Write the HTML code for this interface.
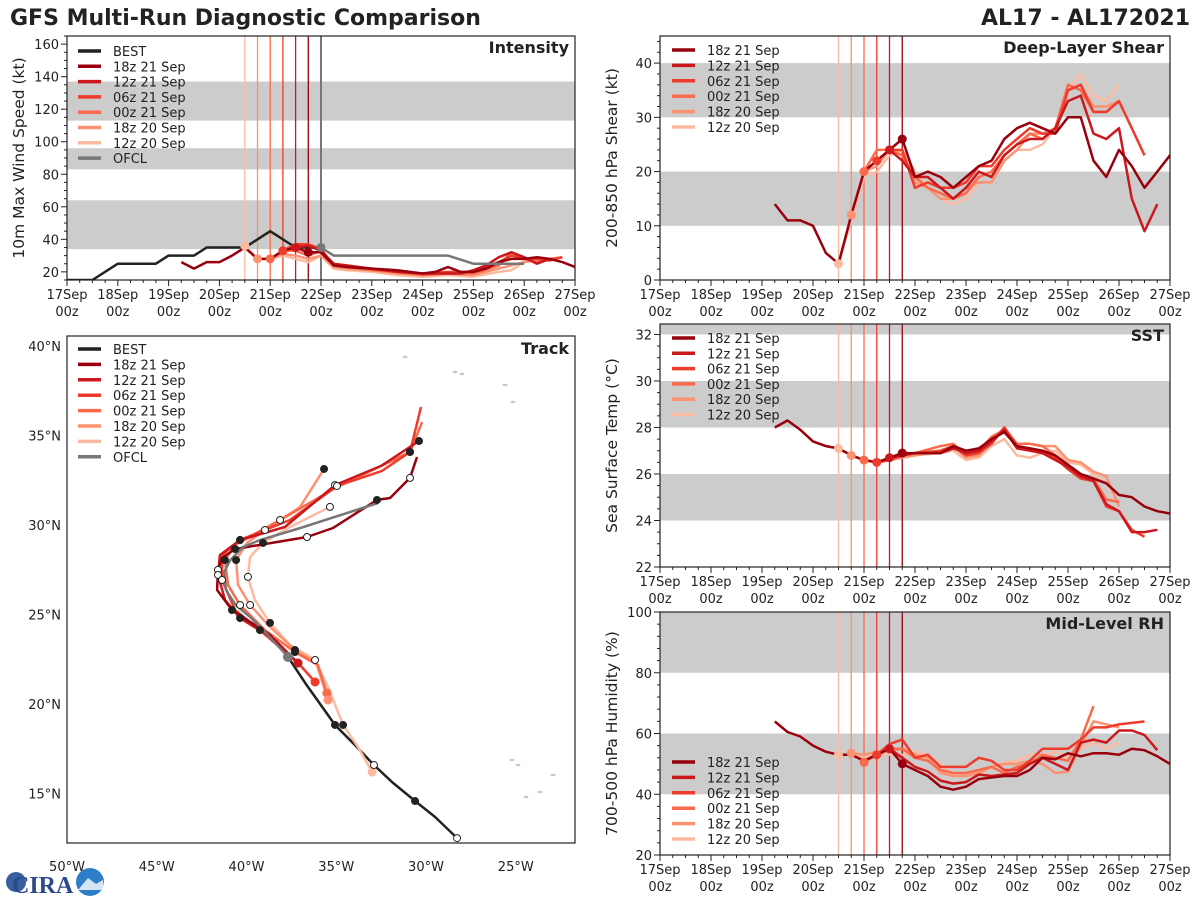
<!DOCTYPE html>
<html><head><meta charset="utf-8"><title>GFS Multi-Run Diagnostic Comparison</title>
<style>
body{margin:0;background:#fff;}
svg{display:block;font-family:"DejaVu Sans","Liberation Sans",sans-serif;}
</style></head>
<body>
<svg id="chart" width="1200" height="900" viewBox="0 0 1200 900" xmlns="http://www.w3.org/2000/svg">
<rect width="1200" height="900" fill="#fff"/>
<text x="10" y="25" font-size="22" font-weight="bold" fill="#222">GFS Multi-Run Diagnostic Comparison</text>
<text x="1190" y="25" font-size="22" font-weight="bold" fill="#222" text-anchor="end">AL17 - AL172021</text>
<g id="logo">
<circle cx="16" cy="882" r="10" fill="#3a5fa0"/>
<text x="12" y="893" font-size="24" font-weight="bold" fill="#2a4a8a" font-family="Liberation Serif,serif">CIRA</text>
<circle cx="90" cy="882" r="14" fill="#2f7fc8"/>
<path d="M78 890 L88 878 L96 884 L103 880 L104 890 Z" fill="#fff" opacity="0.8"/>
</g>
</svg>
<script>
// ---------- shared run metadata ----------
const runNames = ["18z 21 Sep","12z 21 Sep","06z 21 Sep","00z 21 Sep","18z 20 Sep","12z 20 Sep"];
const runColors = ["#99000d","#cb181d","#ef3b2c","#fb6a4a","#fc9272","#fcbba1"];
const runInit = [4.75,4.5,4.25,4.0,3.75,3.5]; // days since 17 Sep 00z
const dayLabels = ["17Sep","18Sep","19Sep","20Sep","21Sep","22Sep","23Sep","24Sep","25Sep","26Sep","27Sep"];

// ---------- Intensity (times in days since 17Sep00z) ----------
const bestT = [0,0.5,1,1.75,2,2.5,2.75,3.5,4,4.5,5];
const bestV = [15,15,25,25,30,30,35,35,45,35,35];
const ofclT = [5,5.25,7.5,8,9];
const ofclV = [35,30,30,25,25];
const intT = [
 [2.25,2.5,2.75,3,3.25,3.5,3.75,4,4.25,4.5,4.75,5,5.25,5.5,6,6.5,7,7.25,7.5,7.75,8,8.25,8.5,8.75,9,9.25,9.5,9.75,10],
 [4.5,4.75,5,5.25,5.5,6,6.5,7,7.5,7.75,8,8.25,8.5,8.75,9,9.25,9.5],
 [4.25,4.5,4.75,5,5.25,5.5,6,6.5,7,7.5,8,8.5,8.75,9,9.25,9.5,9.75],
 [4,4.25,4.5,4.75,5,5.25,5.5,6,6.5,7,7.5,8,8.5,8.75,9,9.25,9.5,9.75],
 [3.75,4,4.25,4.5,4.75,5,5.25,5.5,6,6.5,7,7.5,8,8.5,9,9.25,9.5],
 [3.5,3.75,4,4.25,4.5,4.75,5,5.25,5.5,6,6.5,7,7.5,8,8.5,8.75,9]
];
const intV = [
 [26,22,26,26,30,35,28,28,33,35,32,32,24,23,22,21,19,20,23,20,20,22,26,28,28,29,28,26,23],
 [35,36,33,25,24,22,20,19,19,19,21,24,29,32,29,25,28],
 [33,37,37,34,24,23,22,20,19,20,20,26,30,28,28,27,29],
 [28,33,33,30,33,24,23,21,20,18,19,19,24,32,28,26,28,29],
 [28,28,31,30,28,30,23,22,21,19,18,19,18,22,26,27,27],
 [36,28,28,30,28,26,30,22,21,20,18,17,18,17,20,21,26]
];

// ---------- Shear ----------
const shrT = [
 [2.25,2.5,2.75,3,3.25,3.5,3.75,4,4.25,4.5,4.75,5,5.25,5.5,5.75,6,6.25,6.5,6.75,7,7.25,7.5,7.75,8,8.25,8.5,8.75,9,9.25,9.5,9.75,10],
 [4.5,4.75,5,5.25,5.5,5.75,6,6.25,6.5,6.75,7,7.25,7.5,7.75,8,8.25,8.5,8.75,9,9.25,9.5,9.75],
 [4.25,4.5,4.75,5,5.25,5.5,5.75,6,6.25,6.5,6.75,7,7.25,7.5,7.75,8,8.25,8.5,8.75,9,9.25,9.5],
 [4,4.25,4.5,4.75,5,5.25,5.5,5.75,6,6.25,6.5,6.75,7,7.25,7.5,7.75,8,8.25,8.5,8.75,9],
 [3.75,4,4.25,4.5,4.75,5,5.25,5.5,5.75,6,6.25,6.5,6.75,7,7.25,7.5,7.75,8,8.25,8.5,8.75,9],
 [3.5,3.75,4,4.25,4.5,4.75,5,5.25,5.5,5.75,6,6.25,6.5,6.75,7,7.25,7.5,7.75,8,8.25,8.5,8.75,9]
];
const shrV = [
 [14,11,11,10,5,3,12,20,22,24,26,19,20,19,17,19,21,22,26,28,29,28,27,30,30,22,19,24,21,17,20,23],
 [24,22,19,19,17,15,17,20,19,23,25,26,26,28,33,34,27,26,28,15,9,14],
 [22,24,24,17,18,17,17,18,21,21,24,26,28,27,27,35,36,31,31,33,28,23],
 [20,24,24,23,19,17,16,15,16,19,20,23,25,27,26,28,36,35,31,31,33],
 [12,20,21,24,23,18,17,15,15,17,18,18,22,24,27,27,28,35,36,32,32,33],
 [3,11,19,20,23,24,20,17,15,14,15,18,18,22,24,24,25,28,35,38,34,33,36]
];

// ---------- SST ----------
const sstT = [
 [2.25,2.5,2.75,3,3.25,3.5,3.75,4,4.25,4.5,4.75,5,5.5,5.75,6,6.25,6.5,6.75,7,7.25,7.5,7.75,8,8.25,8.5,8.75,9,9.25,9.5,9.75,10],
 [4.5,4.75,5,5.5,5.75,6,6.25,6.5,6.75,7,7.25,7.5,7.75,8,8.25,8.5,8.75,9,9.25,9.5,9.75],
 [4.25,4.5,4.75,5,5.5,5.75,6,6.25,6.5,6.75,7,7.25,7.5,7.75,8,8.25,8.5,8.75,9,9.25,9.5],
 [4,4.25,4.5,4.75,5,5.5,5.75,6,6.25,6.5,6.75,7,7.25,7.5,7.75,8,8.25,8.5,8.75,9],
 [3.75,4,4.25,4.5,4.75,5,5.5,5.75,6,6.25,6.5,6.75,7,7.25,7.5,7.75,8,8.25,8.5,8.75,9],
 [3.5,3.75,4,4.25,4.5,4.75,5,5.5,5.75,6,6.25,6.5,6.75,7,7.25,7.5,7.75,8,8.25,8.5,8.75,9]
];
const sstV = [
 [28.0,28.3,27.9,27.4,27.2,27.1,26.8,26.6,26.5,26.7,26.9,26.9,26.9,27.2,27.0,27.1,27.5,27.8,27.2,27.1,27.0,26.8,26.4,26.0,25.8,25.6,25.1,25.0,24.6,24.4,24.3],
 [26.7,26.8,26.9,26.9,27.1,26.9,27.0,27.4,27.9,27.1,27.0,26.9,26.6,26.3,25.9,25.7,24.7,24.4,23.5,23.5,23.6],
 [26.5,26.6,26.8,26.9,27.0,27.2,26.8,26.9,27.3,28.0,27.2,27.1,27.0,26.7,26.2,25.8,25.7,24.6,24.4,23.6,23.3],
 [26.6,26.5,26.6,26.8,26.9,27.2,27.3,26.8,27.0,27.6,27.9,27.3,27.3,27.2,26.8,26.3,25.9,25.8,24.9,24.8],
 [26.8,26.6,26.5,26.6,26.7,26.8,27.0,27.2,26.7,26.8,27.4,28.0,27.3,27.3,27.2,27.2,26.6,26.5,26.1,25.9,24.6],
 [27.1,26.8,26.6,26.5,26.6,26.7,26.8,26.9,27.0,26.6,26.7,27.2,27.5,26.8,26.7,26.9,27.0,26.5,26.4,26.0,25.6,24.7]
];

// ---------- Mid-level RH ----------
const rhT = [
 [2.25,2.5,2.75,3,3.25,3.5,3.75,4,4.25,4.5,4.75,5,5.25,5.5,5.75,6,6.25,6.5,6.75,7,7.25,7.5,7.75,8,8.25,8.5,8.75,9,9.25,9.5,9.75,10],
 [4.5,4.75,5,5.25,5.5,5.75,6,6.25,6.5,6.75,7,7.25,7.5,7.75,8,8.25,8.5,8.75,9,9.25,9.5,9.75],
 [4.25,4.5,4.75,5,5.25,5.5,5.75,6,6.25,6.5,6.75,7,7.25,7.5,7.75,8,8.25,8.5,8.75,9,9.5],
 [4,4.25,4.5,4.75,5,5.25,5.5,5.75,6,6.25,6.5,6.75,7,7.25,7.5,7.75,8,8.25,8.5],
 [3.75,4,4.25,4.5,4.75,5,5.25,5.5,5.75,6,6.25,6.5,6.75,7,7.25,7.5,7.75,8,8.25,8.5,8.75,9],
 [3.5,3.75,4,4.25,4.5,4.75,5,5.25,5.5,5.75,6,6.25,6.5,6.75,7,7.25,7.5,7.75,8,8.25,8.5,8.75,9]
];
const rhV = [
 [64,60.5,59,56,54,53,53,51,53,55,50,48,46,42.5,41.5,42.5,45,45.5,46,46,48,52,51.5,53.5,52.5,53.5,53.5,53,55,54.5,52.5,50],
 [55,52,49,47.5,44.5,43.5,44,46.5,46,46.5,47,50,52,50,48,57,58,57,61,61,59.5,54.5],
 [53,56.5,58,52,53,49,49,49,52,51,48,48,51,55,55,55,58,62,62,63,64],
 [50.5,53,55,55,52,51,48,47,47,48,49,47,49,50,53,52,51,58,69],
 [53.5,53,54,54,55,53,52,47,46,46,47,49,50,50,51,50,47,47.5,56,64,63,62],
 [53,53,52,53,53,53,54,53,50,46,46,47,49,50.5,51,53,53,54,52,55,57,55,57]
];

// ---------- Track (lon, lat) ----------
const bestLon = [-28.27,-29.5,-30.61,-31.84,-32.9,-33.96,-35.07,-36.69,-37.69];
const bestLat = [12.51,13.69,14.58,15.59,16.59,17.71,18.83,21.12,22.63];
const ofclLon = [-37.69,-38.86,-39.8,-40.6,-41.14,-41.25,-40.9,-40.2,-39.25,-37.0,-32.67];
const ofclLat = [22.63,23.91,24.86,25.53,26.37,27.37,28.04,28.77,29.16,29.83,31.23];
const trkLon = [
 [-37.69,-38.69,-40.81,-41.64,-41.59,-41.36,-40.64,-38.3,-36.63,-35.18,-32.73,-32.0,-30.89,-30.5],
 [-37.13,-38.41,-40.36,-41.2,-41.59,-41.48,-40.36,-37.86,-35.07,-32.5,-30.39],
 [-36.18,-37.02,-39.25,-40.64,-41.36,-41.36,-40.36,-37.58,-34.96,-32.45,-30.89,-30.28],
 [-35.52,-36.02,-37.3,-38.97,-40.36,-41.03,-41.2,-40.64,-38.13,-34.96,-30.89,-30.22],
 [-35.46,-36.13,-37.3,-38.69,-39.8,-40.47,-40.58,-39.97,-38.97,-37.02,-35.68],
 [-33.0,-33.79,-34.62,-35.46,-36.18,-37.58,-38.69,-39.53,-39.92,-39.8,-39.08,-37.58,-35.35]
];
const trkLat = [
 [22.63,23.86,25.25,26.37,27.49,28.16,28.66,29.05,29.33,29.83,31.4,31.51,32.63,33.8],
 [22.29,23.58,24.8,25.81,27.21,28.32,29.16,29.89,32.23,33.3,34.69],
 [21.23,22.18,24.13,25.25,26.93,28.32,29.16,30.28,32.18,33.02,34.08,36.59],
 [20.61,22.18,22.9,24.13,25.53,26.65,28.04,28.88,30.28,32.12,34.08,35.75],
 [20.22,22.35,23.02,24.3,25.53,26.65,28.04,29.0,29.72,31.0,33.13],
 [16.2,17.6,18.83,20.95,22.46,23.3,24.53,25.81,27.1,28.21,29.0,29.89,31.01]
];
const lonTicks = [-50,-45,-40,-35,-30,-25];
const latTicks = [15,20,25,30,35,40];

// ---------- drawing helpers ----------
const svg = document.getElementById('chart');
const NS = 'http://www.w3.org/2000/svg';
const FS = 13;
function mk(tag, attrs, parent){
  const e = document.createElementNS(NS, tag);
  for (const k in attrs) e.setAttribute(k, attrs[k]);
  (parent||svg).appendChild(e);
  return e;
}
function txt(s, attrs, parent){ const t = mk('text', attrs, parent); t.textContent = s; return t; }
function pathD(xs, ys){ return xs.map((x,i)=>(i?'L':'M')+x.toFixed(1)+' '+ys[i].toFixed(1)).join(' '); }

function timePanel(cfg){
  const g = mk('g', {});
  
  
  const L=cfg.L, R=cfg.R, T=cfg.T, B=cfg.B;
  const sx = t => L + t*(R-L)/10;
  const sy = v => B - (v-cfg.ymin)*(B-T)/(cfg.ymax-cfg.ymin);
  const clip = mk('clipPath', {id:'clip-'+cfg.name}, g);
  mk('rect', {x:L, y:T, width:R-L, height:B-T}, clip);
  cfg.bands.forEach(b=>{
    const r = mk('rect', {x:L, y:sy(Math.min(b[1],cfg.ymax)), width:R-L, height:sy(b[0])-sy(Math.min(b[1],cfg.ymax)), fill:'#cccccc'}, g);
    
    
  });
  for (let i=runInit.length-1;i>=0;i--){
    const l = mk('line', {x1:sx(runInit[i]), x2:sx(runInit[i]), y1:T, y2:B, stroke:runColors[i], 'stroke-width':1.3}, g);
    
    
  }
  if (cfg.ofclLine){
    const l = mk('line', {x1:sx(5), x2:sx(5), y1:T, y2:B, stroke:'#777', 'stroke-width':2}, g);
    
    
  }
  const lines = mk('g', {'clip-path':'url(#clip-'+cfg.name+')'}, g);
  if (cfg.best){
    const p = mk('path', {d:pathD(cfg.best[0].map(sx), cfg.best[1].map(sy)), fill:'none', stroke:'#222', 'stroke-width':2.5, 'stroke-linejoin':'round'}, lines);
    
    
  }
  for (let i=cfg.T_.length-1;i>=0;i--){
    const p = mk('path', {d:pathD(cfg.T_[i].map(sx), cfg.V_[i].map(sy)), fill:'none', stroke:runColors[i], 'stroke-width':2.5, 'stroke-linejoin':'round'}, lines);
    
    
  }
  if (cfg.ofcl){
    const p = mk('path', {d:pathD(cfg.ofcl[0].map(sx), cfg.ofcl[1].map(sy)), fill:'none', stroke:'#777', 'stroke-width':2.5}, lines);
    
    
  }
  for (let i=cfg.T_.length-1;i>=0;i--){
    const k = cfg.T_[i].indexOf(runInit[i]);
    if (k<0) continue;
    const c = mk('circle', {cx:sx(runInit[i]), cy:sy(cfg.V_[i][k]), r:4.5, fill:runColors[i]}, g);
    
    
  }
  if (cfg.ofcl){
    const c = mk('circle', {cx:sx(5), cy:sy(cfg.ofcl[1][0]), r:4.5, fill:'#777'}, g);
    
    
  }
  mk('rect', {x:L, y:T, width:R-L, height:B-T, fill:'none', stroke:'#222', 'stroke-width':1.2}, g);
  for (let d=0; d<=10; d+=0.25){
    const major = Math.abs(d-Math.round(d))<1e-6;
    mk('line', {x1:sx(d), x2:sx(d), y1:B, y2:B+(major?6:3), stroke:'#222', 'stroke-width':1}, g);
  }
  dayLabels.forEach((s,i)=>{
    const t1 = txt(s, {x:sx(i), y:B+19, 'font-size':FS, fill:'#222', 'text-anchor':'middle'}, g);
    
    
    txt('00z', {x:sx(i), y:B+36, 'font-size':FS, fill:'#222', 'text-anchor':'middle'}, g);
  });
  for (let v=cfg.ymin; v<=cfg.ymax+1e-6; v+=cfg.minor){
    const vv = Math.round(v*100)/100;
    const major = Math.abs(vv/cfg.major - Math.round(vv/cfg.major))<1e-6;
    mk('line', {x1:L, x2:L-(major?6:3), y1:sy(vv), y2:sy(vv), stroke:'#222', 'stroke-width':1}, g);
    if (major && vv>=cfg.labelMin){
      const t = txt(String(vv), {x:L-8, y:sy(vv)+5, 'font-size':FS, fill:'#222', 'text-anchor':'end'}, g);
      
      
    }
  }
  const yt = txt(cfg.ylabel, {x:0, y:0, 'font-size':15.5, fill:'#222', 'text-anchor':'middle', transform:`translate(${L-43},${(T+B)/2}) rotate(-90)`}, g);
  
  
  const tt = txt(cfg.title, {x:R-6, y:T+17, 'font-size':16, 'font-weight':'bold', fill:'#222', 'text-anchor':'end'}, g);
  
  
  legend(g, cfg.legX, cfg.legY, cfg.legItems, cfg.legStep);
}
function legend(g, x, y, items, step){
  const lg = mk('g', {}, g);
  
  
  items.forEach((it,i)=>{
    const e = mk('g', {}, lg);
    
    
    mk('line', {x1:x, x2:x+23, y1:y+i*step, y2:y+i*step, stroke:it[1], 'stroke-width':3.5}, e);
    txt(it[0], {x:x+35, y:y+i*step+5, 'font-size':FS, fill:'#222'}, e);
  });
}
const runItems = runNames.map((n,i)=>[n, runColors[i]]);
const allItems = [['BEST','#222']].concat(runItems).concat([['OFCL','#777']]);

timePanel({name:'intensity', L:67, R:575, T:36, B:280, ymin:15, ymax:165, major:20, minor:5, labelMin:20,
  bands:[[34,64],[83,96],[113,137]], T_:intT, V_:intV, best:[bestT,bestV], ofcl:[ofclT,ofclV], ofclLine:true,
  ylabel:'10m Max Wind Speed (kt)', title:'Intensity', legX:78, legY:51, legItems:allItems, legStep:15.3});
timePanel({name:'shear', L:660, R:1170, T:36, B:280, ymin:0, ymax:45, major:10, minor:2, labelMin:0,
  bands:[[10,20],[30,40]], T_:shrT, V_:shrV, ylabel:'200-850 hPa Shear (kt)', title:'Deep-Layer Shear',
  legX:672, legY:50, legItems:runItems, legStep:15.4});
timePanel({name:'sst', L:660, R:1170, T:324, B:567, ymin:22, ymax:32.45, major:2, minor:0.5, labelMin:22,
  bands:[[24,26],[28,30],[32,33]], T_:sstT, V_:sstV, ylabel:'Sea Surface Temp (°C)', title:'SST',
  legX:672, legY:338, legItems:runItems, legStep:15.3});
timePanel({name:'rh', L:660, R:1170, T:612, B:855, ymin:20, ymax:100, major:20, minor:4, labelMin:20,
  bands:[[40,60],[80,100]], T_:rhT, V_:rhV, ylabel:'700-500 hPa Humidity (%)', title:'Mid-Level RH',
  legX:672, legY:762, legItems:runItems, legStep:15.4});

// ---------- Track panel ----------
(function(){
  const L=67,R=575,T=336,B=843;
  const px = lon => 67 + (lon+50)*17.95;
  const py = lat => 346 + (40-lat)*17.9;
  const g = mk('g', {});
  
  
  [[405,357],[455,372],[462,374],[505,385],[513,402],[512,760],[518,765],[540,792],[526,797],[553,775]].forEach(p=>{
    mk('ellipse', {cx:p[0], cy:p[1], rx:2.5, ry:1.2, fill:'#c8c8c8'}, g);
  });
  const clip = mk('clipPath', {id:'clip-track'}, g);
  mk('rect', {x:L, y:T, width:R-L, height:B-T}, clip);
  const lines = mk('g', {'clip-path':'url(#clip-track)'}, g);
  const bp = mk('path', {d:pathD(bestLon.map(px), bestLat.map(py)), fill:'none', stroke:'#222', 'stroke-width':2.5}, lines);
  
  
  for (let i=trkLon.length-1;i>=0;i--){
    const p = mk('path', {d:pathD(trkLon[i].map(px), trkLat[i].map(py)), fill:'none', stroke:runColors[i], 'stroke-width':2.5, 'stroke-linejoin':'round'}, lines);
    
    
  }
  const op = mk('path', {d:pathD(ofclLon.map(px), ofclLat.map(py)), fill:'none', stroke:'#777', 'stroke-width':2.5}, lines);
  
  
  for (let i=0;i<trkLon.length;i++){
    const c0 = mk('circle', {cx:px(trkLon[i][0]), cy:py(trkLat[i][0]), r:4.5, fill:runColors[i]}, g);
    
    
    for (let k=2;k<trkLon[i].length;k+=2){
      const c = mk('circle', {cx:px(trkLon[i][k]), cy:py(trkLat[i][k]), r:3.5, fill:(k%4===0)?'#fff':'#222', stroke:'#222', 'stroke-width':1}, g);
      
      
    }
  }
  for (let k=0;k<bestLon.length;k+=2){
    const c = mk('circle', {cx:px(bestLon[k]), cy:py(bestLat[k]), r:3.5, fill:(k%4===0)?'#fff':'#222', stroke:'#222', 'stroke-width':1}, g);
    
    
  }
  mk('circle', {cx:px(ofclLon[0]), cy:py(ofclLat[0]), r:5, fill:'#777'}, g);
  mk('rect', {x:L, y:T, width:R-L, height:B-T, fill:'none', stroke:'#222', 'stroke-width':1.2}, g);
  lonTicks.forEach(v=>{
    const t = txt(Math.abs(v)+'°W', {x:px(v), y:B+28, 'font-size':FS, fill:'#222', 'text-anchor':'middle'}, g);
    
    
  });
  latTicks.forEach(v=>{
    const t = txt(v+'°N', {x:L-6, y:py(v)+5, 'font-size':FS, fill:'#222', 'text-anchor':'end'}, g);
    
    
  });
  const tt = txt('Track', {x:R-6, y:T+18, 'font-size':16, 'font-weight':'bold', fill:'#222', 'text-anchor':'end'}, g);
  
  
  legend(g, 78, 349, allItems, 15.4);
})();
svg.appendChild(document.getElementById('logo'));
</script>
</body></html>
